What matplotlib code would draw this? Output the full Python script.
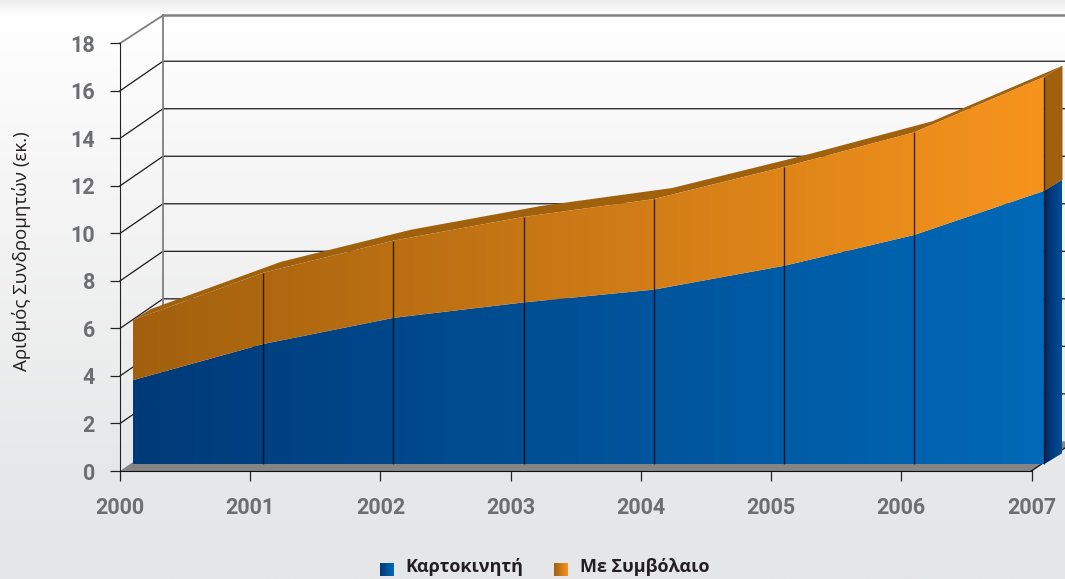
"""Subscribers per year, drawn as a 3-D looking stacked area."""
import numpy as np
import matplotlib
matplotlib.use("Agg")
import matplotlib.pyplot as plt
from matplotlib.colors import LinearSegmentedColormap
from matplotlib.patches import Polygon

years = [2000, 2001, 2002, 2003, 2004, 2005, 2006, 2007]
prepaid = [3.53, 5.05, 6.15, 6.8, 7.34, 8.34, 9.64, 11.5]
contract = [2.53, 3.0, 3.25, 3.6, 3.81, 4.16, 4.32, 4.8]
y_ticks = [0, 2, 4, 6, 8, 10, 12, 14, 16, 18]
series_names = ["Καρτοκινητή", "Με Συμβόλαιο"]
y_title = "Αριθμός Συνδρομητών (εκ.)"

W, H = 1065, 579
PX_X = (1031.5 - 120) / 7        # pixels per year
PX_Y = (471 - 43.3) / 18         # pixels per unit
WALL = (43 / PX_X, 29.6 / PX_Y)  # back wall offset from the front axes
FACE = (13 / PX_X, 7 / PX_Y)     # front face of the area
SIDE = (18 / PX_X, 11 / PX_Y)    # thickness of the area

GREY = "#6d6e71"
BROWN = "#a0600c"

blue_cm = LinearSegmentedColormap.from_list("b", ["#003a78", "#0069b8"])
orange_cm = LinearSegmentedColormap.from_list("o", ["#a2600e", "#f7941d"])
side_cm = LinearSegmentedColormap.from_list("s", ["#00285f", "#004f9e"])
bg_cm = LinearSegmentedColormap.from_list(
    "bg", [(0, "#eeeeee"), (0.025, "#ffffff"), (0.3, "#f6f6f6"),
           (0.8, "#e7e8e9"), (1, "#e5e6e7")])


def fill_gradient(ax, verts, cmap, z):
    # horizontal gradient clipped to the polygon
    verts = np.asarray(verts)
    x0, x1 = verts[:, 0].min(), verts[:, 0].max()
    y0, y1 = verts[:, 1].min(), verts[:, 1].max()
    im = ax.imshow(np.linspace(0, 1, 256)[None, :], cmap=cmap, aspect="auto",
                   extent=(x0, x1, y0, y1), zorder=z, vmin=0, vmax=1)
    poly = Polygon(verts, transform=ax.transData, fc="none", ec="none")
    ax.add_patch(poly)
    im.set_clip_path(poly)


fig = plt.figure(figsize=(W / 100, H / 100), dpi=100)
ax = fig.add_axes([0, 0, 1, 1])
xlim = (2000 - 120 / PX_X, 2000 + (W - 120) / PX_X)
ylim = (-(H - 471) / PX_Y, 471 / PX_Y)

ax.imshow(np.linspace(0, 1, 256)[:, None], cmap=bg_cm, aspect="auto",
          extent=(*xlim, ylim[0], ylim[1]), origin="upper", zorder=0)

xa = np.array(years, dtype=float)
low = np.array(prepaid)
top = low + np.array(contract)

# back wall and its grid
x_end = years[-1] + WALL[0]
for v in y_ticks[1:-1]:
    ax.plot([xa[0], xa[0] + WALL[0], x_end], [v, v + WALL[1], v + WALL[1]],
            color="#1a1a1a", lw=0.9, zorder=1, solid_joinstyle="miter")
top_y = 18 + WALL[1] - 0.07
ax.plot([xa[0], xa[0] + WALL[0]], [18, top_y], color="#808080", lw=1.3, zorder=1)
ax.plot([xa[0] + WALL[0]] * 2, [WALL[1], top_y], color="#808080", lw=1.3, zorder=1)
ax.plot([xa[0] + WALL[0], x_end], [top_y] * 2, color="#808080", lw=1.8, zorder=1)

# floor
ax.add_patch(Polygon([(xa[0], 0), (xa[-1], 0), (x_end, WALL[1]),
                      (xa[0] + WALL[0], WALL[1])],
                     fc="#858585", ec="none", zorder=2))
ax.plot([xa[-1], x_end], [0, WALL[1]], color="#111111", lw=0.9, zorder=2)

# area: faces shifted into the box
fx = xa + FACE[0]
fy0 = FACE[1]

# top strip and right side faces
strip = list(zip(fx, fy0 + top)) + list(zip(fx[::-1] + SIDE[0], fy0 + top[::-1] + SIDE[1]))
ax.add_patch(Polygon(strip, fc=BROWN, ec="none", zorder=3))
ax.add_patch(Polygon([(fx[-1], fy0 + low[-1]), (fx[-1], fy0 + top[-1]),
                      (fx[-1] + SIDE[0], fy0 + top[-1] + SIDE[1]),
                      (fx[-1] + SIDE[0], fy0 + low[-1] + SIDE[1])],
                     fc=BROWN, ec="none", zorder=3))
fill_gradient(ax, [(fx[-1], fy0), (fx[-1], fy0 + low[-1]),
                   (fx[-1] + SIDE[0], fy0 + low[-1] + SIDE[1]),
                   (fx[-1] + SIDE[0], fy0 + SIDE[1])], side_cm, 3)

# front faces
fill_gradient(ax, [(fx[0], fy0)] + list(zip(fx, fy0 + low)) + [(fx[-1], fy0)],
              blue_cm, 4)
fill_gradient(ax, list(zip(fx, fy0 + low)) + list(zip(fx[::-1], fy0 + top[::-1])),
              orange_cm, 4)

# year dividers on the face
ax.vlines(fx[1:], fy0, fy0 + top[1:], color="black", lw=1.0, alpha=0.72, zorder=5)

# front axes
for side in ("top", "right"):
    ax.spines[side].set_visible(False)
ax.spines["left"].set_position(("data", 2000))
ax.spines["bottom"].set_position(("data", 0))
ax.spines["left"].set_bounds(0, 18)
ax.spines["bottom"].set_bounds(2000, 2007)
ax.spines["left"].set_color("#222222")
ax.spines["bottom"].set_color("#111111")
ax.spines["left"].set_zorder(6)
ax.spines["bottom"].set_zorder(6)
ax.set_xticks(years)
ax.set_yticks(y_ticks)
tick_font = dict(family="Roboto", weight="bold", size=15.5, color=GREY)
ax.set_xticklabels([str(y) for y in years], **tick_font)
ax.set_yticklabels([str(v) for v in y_ticks], **tick_font)
ax.tick_params(axis="x", length=7, width=0.9, color="#222222", pad=12, direction="out")
ax.tick_params(axis="y", length=7, width=0.9, color="#222222", pad=11, direction="out")

ax.text(2000 + (21.5 - 120) / PX_X, (471 - 251) / PX_Y, y_title, rotation=90,
        family="Open Sans", size=13.5, color="#231f20", ha="center", va="center")

# legend
for name, cmap, x_sq, x_txt in zip(series_names, [blue_cm, orange_cm],
                                   [380, 554], [405.5, 580.5]):
    ax.imshow(np.linspace(0, 1, 64)[None, :], cmap=cmap, aspect="auto", zorder=6,
              extent=(2000 + (x_sq - 120) / PX_X, 2000 + (x_sq + 14 - 120) / PX_X,
                      (471 - 576) / PX_Y, (471 - 564) / PX_Y))
    ax.text(2000 + (x_txt - 120) / PX_X, (471 - 567) / PX_Y, name,
            family="Open Sans", weight="bold", size=13, color="#231f20",
            ha="left", va="center")

ax.set_xlim(*xlim)
ax.set_ylim(*ylim)
fig.savefig("out.png", dpi=100)
